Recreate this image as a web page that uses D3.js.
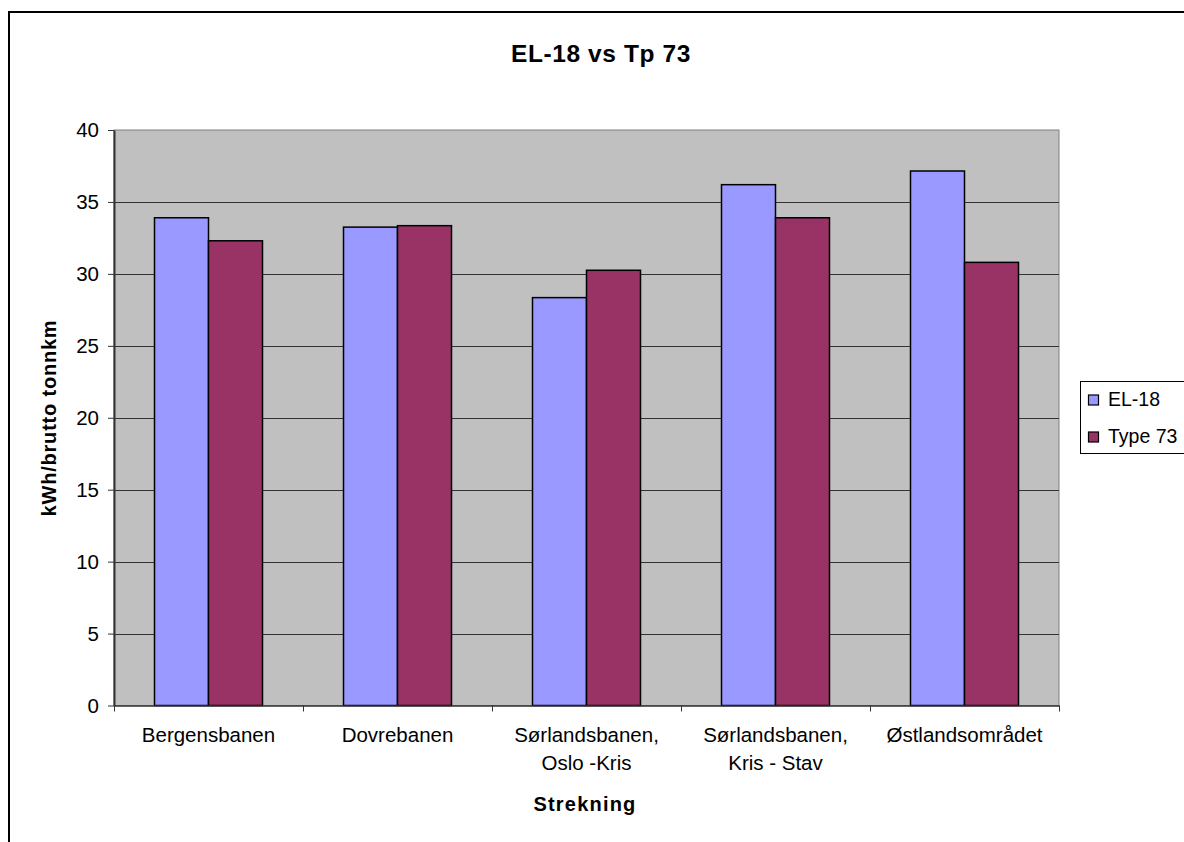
<!DOCTYPE html>
<html>
<head>
<meta charset="utf-8">
<script src="https://cdn.jsdelivr.net/npm/d3@7"></script>
<style>
  html, body { margin: 0; padding: 0; background: #fff; }
  svg { display: block; font-family: "Liberation Sans", Arial, sans-serif; }
</style>
</head>
<body>
<svg id="chart" width="1184" height="842"></svg>
<script>
// Energy use per gross tonne-km, by line section
const categories = [
  ["Bergensbanen"],
  ["Dovrebanen"],
  ["Sørlandsbanen,", "Oslo -Kris"],
  ["Sørlandsbanen,", "Kris - Stav"],
  ["Østlandsområdet"]
];
const seriesNames = ["EL-18", "Type 73"];
const el18 = [33.9, 33.25, 28.35, 36.2, 37.15];
const type73 = [32.3, 33.35, 30.25, 33.9, 30.8];
const yTicks = [0, 5, 10, 15, 20, 25, 30, 35, 40];
const colors = ["#9999ff", "#993366"];

const svg = d3.select("#chart");
const FONT = "Liberation Sans, Arial, sans-serif";

// outer chart frame
svg.append("rect")
  .attr("x", 9).attr("y", 12).attr("width", 1190).attr("height", 850)
  .attr("fill", "#fff").attr("stroke", "#000").attr("stroke-width", 2);

const plot = { left: 114, top: 130, right: 1059, bottom: 705.5 };

const x0 = d3.scaleBand()
  .domain(d3.range(categories.length))
  .range([plot.left, plot.right])
  .paddingInner(0).paddingOuter(0);
const barW = x0.bandwidth() / 3.5;
const x1 = d3.scaleBand()
  .domain(d3.range(seriesNames.length))
  .range([barW * 0.75, barW * 0.75 + barW * 2]);

const y = d3.scaleLinear().domain([0, 40]).range([plot.bottom, plot.top]);

// plot background
svg.append("rect")
  .attr("x", plot.left).attr("y", plot.top)
  .attr("width", plot.right - plot.left).attr("height", plot.bottom - plot.top)
  .attr("fill", "#c0c0c0").attr("stroke", "#808080").attr("stroke-width", 1);

// gridlines
svg.append("g").selectAll("line")
  .data(yTicks.filter(t => t > 0 && t < 40))
  .join("line")
  .attr("x1", plot.left).attr("x2", plot.right)
  .attr("y1", d => Math.round(y(d)) + 0.5).attr("y2", d => Math.round(y(d)) + 0.5)
  .attr("stroke", "#333").attr("stroke-width", 1);

// bars
const data = categories.map((c, i) => [el18[i], type73[i]]);
const groups = svg.append("g").selectAll("g")
  .data(data).join("g")
  .attr("transform", (d, i) => `translate(${x0(i)},0)`);
groups.selectAll("rect")
  .data(d => d.map((v, s) => ({ v, s })))
  .join("rect")
  .attr("x", d => x1(d.s))
  .attr("width", x1.bandwidth())
  .attr("y", d => y(d.v))
  .attr("height", d => y(0) - y(d.v))
  .attr("fill", d => colors[d.s])
  .attr("stroke", "#000").attr("stroke-width", 1.5);

// y axis
const yAxis = svg.append("g")
  .attr("transform", `translate(${plot.left},0)`)
  .call(d3.axisLeft(y).tickValues(yTicks).tickSize(6).tickSizeOuter(0).tickPadding(9));
yAxis.select(".domain").attr("stroke", "#333").attr("stroke-width", 2);
yAxis.selectAll(".tick line").attr("stroke", "#333");
yAxis.selectAll(".tick text")
  .attr("font-size", 20.5).attr("fill", "#000")
  .attr("font-family", FONT);

// x axis
const xAxis = svg.append("g")
  .attr("transform", `translate(0,${plot.bottom})`)
  .call(d3.axisBottom(d3.scaleLinear().domain([0, 5]).range([plot.left, plot.right]))
    .tickValues(d3.range(6)).tickSize(6).tickSizeOuter(0).tickFormat(""));
xAxis.select(".domain").attr("stroke", "#333").attr("stroke-width", 1.5);
xAxis.selectAll(".tick line").attr("stroke", "#333");

// category labels
const catLabels = svg.append("g").selectAll("text")
  .data(categories).join("text")
  .attr("x", (d, i) => x0(i) + x0.bandwidth() / 2)
  .attr("y", 742)
  .attr("text-anchor", "middle")
  .attr("font-size", 20.5).attr("fill", "#000");
catLabels.selectAll("tspan")
  .data(d => d).join("tspan")
  .attr("x", function () { return this.parentNode.getAttribute("x"); })
  .attr("dy", (d, i) => i === 0 ? 0 : 28)
  .text(d => d);

// titles
svg.append("text")
  .attr("x", 601).attr("y", 62)
  .attr("text-anchor", "middle")
  .attr("font-size", 24.5).attr("font-weight", "bold")
  .attr("letter-spacing", 0.6)
  .text("EL-18 vs Tp 73");

svg.append("text")
  .attr("x", 585).attr("y", 811)
  .attr("text-anchor", "middle")
  .attr("font-size", 20).attr("font-weight", "bold")
  .attr("letter-spacing", 1.2)
  .text("Strekning");

svg.append("text")
  .attr("transform", "translate(56,418) rotate(-90)")
  .attr("text-anchor", "middle")
  .attr("font-size", 20).attr("font-weight", "bold")
  .attr("letter-spacing", 0.8)
  .text("kWh/brutto tonnkm");

// legend
const legend = svg.append("g");
legend.append("rect")
  .attr("x", 1080.5).attr("y", 381.5).attr("width", 120).attr("height", 72)
  .attr("fill", "#fff").attr("stroke", "#000").attr("stroke-width", 1);
const items = legend.selectAll("g.item")
  .data(seriesNames).join("g")
  .attr("class", "item")
  .attr("transform", (d, i) => `translate(0,${400 + i * 37})`);
items.append("rect")
  .attr("x", 1088.5).attr("y", -5).attr("width", 10).attr("height", 10)
  .attr("fill", (d, i) => colors[i]).attr("stroke", "#000").attr("stroke-width", 1.2);
items.append("text")
  .attr("x", 1108).attr("y", 5.5)
  .attr("font-size", 19.5).attr("fill", "#000")
  .text(d => d);
</script>
</body>
</html>
